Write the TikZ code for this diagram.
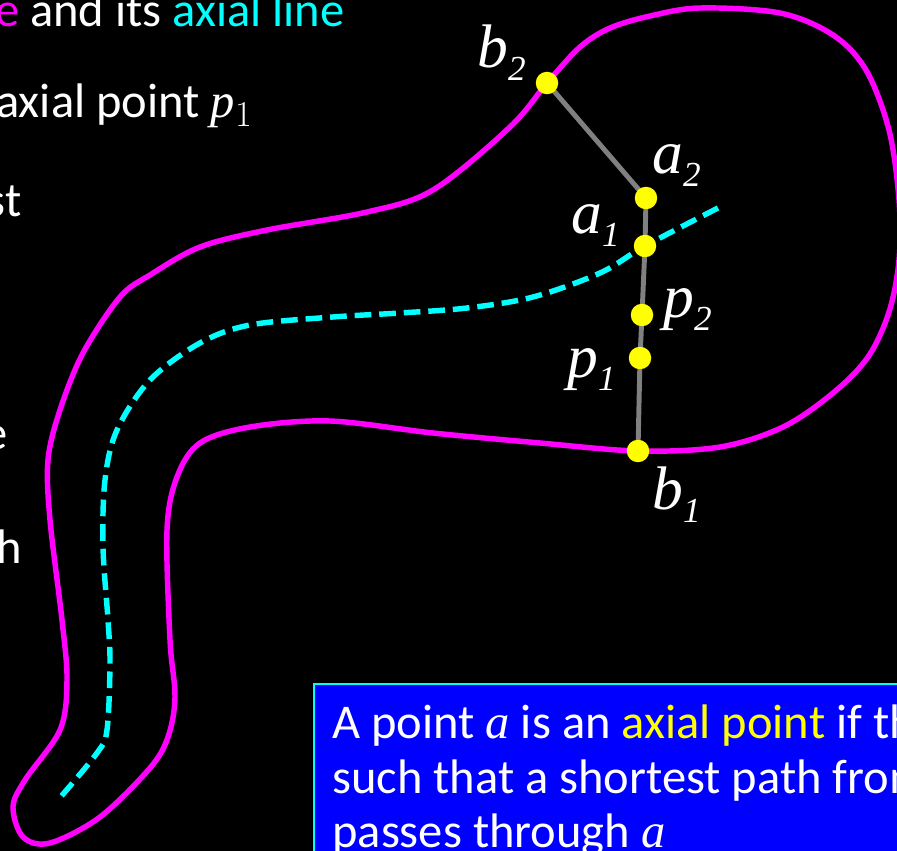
\documentclass[tikz,border=0pt]{standalone}
\usepackage{fontspec}
\setmainfont{Carlito}
\newfontfamily\labelfont{Liberation Serif}
\usetikzlibrary{positioning}
\definecolor{shapeline}{HTML}{FF00FF}
\definecolor{axisline}{HTML}{00FFFF}
\definecolor{axialdot}{HTML}{FFFF00}
\definecolor{segment}{HTML}{808080}
\definecolor{notebox}{HTML}{0000FF}
\tikzset{
  outline/.style={draw=shapeline, line width=3.1pt},
  axial/.style={draw=axisline, line width=3.1pt, dash pattern=on 9.5pt off 4.5pt},
  seg/.style={draw=segment, line width=2.8pt},
  dot/.style={circle, fill=axialdot, inner sep=0pt, minimum size=0.45cm},
  ptlabel/.style={text=white, inner sep=0pt, anchor=base west,
    font=\labelfont\itshape\fontsize{35}{38}\selectfont},
  slidetext/.style={text=white, inner sep=0pt, font=\fontsize{27.6}{32}\selectfont},
  notefill/.style={draw=axisline, fill=notebox, line width=1.1pt, inner sep=0pt}
}
\newcommand{\ptname}[2]{#1\raisebox{-7pt}{\fontsize{20}{21}\selectfont #2}}
\newcommand{\mathvar}[1]{{\labelfont\itshape #1}}

\begin{document}
\begin{tikzpicture}[x=0.02cm, y=-0.02cm]
  \clip (0,0) rectangle (897,851);
  \fill[black] (0,0) rectangle (897,851);
  % points on the cut through the shape
  \coordinate (b2) at (547,83);
  \coordinate (a2) at (646,198);
  \coordinate (a1) at (645,246);
  \coordinate (p2) at (642,315);
  \coordinate (p1) at (640,358);
  \coordinate (b1) at (638,451);
  % the shape
  \draw[outline] plot[smooth cycle, tension=0.55] coordinates {
    (547,83) (580,47) (610,28) (650,16) (700,8) (780,13) (833,35) (866,70)
    (889,130) (899,200) (899,260) (889,312) (868,357) (833,393)
    (783,427) (720,447) (638,451) (540,443) (433,433) (330,421) (250,427)
    (200,443) (177,477) (167,530) (170,640) (175,697) (168,737) (150,768)
    (100,817) (50,843) (23,837) (13,807) (25,780) (60,730) (67,680)
    (62,620) (50,520) (48,460) (60,410) (83,353) (120,297) (150,275)
    (200,247) (267,230) (367,212) (433,190) (510,127)};
  % its axial line
  \draw[axial] plot[smooth, tension=0.55] coordinates {
    (718,208) (645,246) (600,273) (533,297) (467,308) (400,313) (333,317)
    (250,325) (200,343) (150,380) (117,430) (105,480) (103,547) (108,620)
    (110,663) (107,730) (97,753) (58,800)};
  \draw[seg] (b2) -- (a2) -- (a1) -- (p2) -- (p1) -- (b1);
  \foreach \n in {b2,a2,a1,p2,p1,b1}
    \node[dot] (d\n) at (\n) {};
  \node[ptlabel] (lb2) at (477,68) {\ptname{b}{2}};
  \node[ptlabel] (la2) at (652,174) {\ptname{a}{2}};
  \node[ptlabel] (la1) at (571,234) {\ptname{a}{1}};
  \node[ptlabel] (lp2) at (663,318) {\ptname{p}{2}};
  \node[ptlabel] (lp1) at (567,378) {\ptname{p}{1}};
  \node[ptlabel] (lb1) at (652,510) {\ptname{b}{1}};
  % slide text, cut at the left
  \node[slidetext, anchor=base east] (top1) at (345,27)
    {\textcolor{shapeline}{e} and its \textcolor{axisline}{axial line}};
  \node[slidetext, anchor=base east] (top2) at (253,118)
    {axial point \mathvar{p}$_1$};
  \node[slidetext, anchor=base east] (side1) at (22,217) {st};
  \node[slidetext, anchor=base east] (side2) at (8,450) {e};
  \node[slidetext, anchor=base east] (side3) at (22,563) {h};
  % definition box
  \node[notefill, anchor=north west, minimum width=12cm, minimum height=4cm]
    (note) at (313,683) {};
  \node[slidetext, anchor=base west] (def1) at (332,738)
    {A point \mathvar{a} is an \textcolor{axialdot}{axial point} if th};
  \node[slidetext, anchor=base west] (def2) at (332,793)
    {such that a shortest path from};
  \node[slidetext, anchor=base west] (def3) at (332,847)
    {passes through \mathvar{a}};
\end{tikzpicture}
\end{document}
